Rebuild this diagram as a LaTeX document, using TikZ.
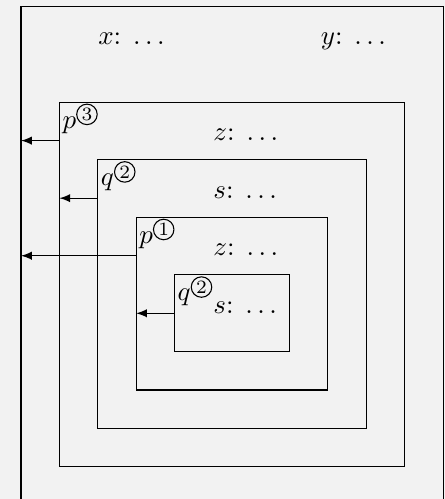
\documentclass[tikz,border=0pt]{standalone}
\usetikzlibrary{fit}

% small circled number for the tags
\newcommand{\circnum}[1]{\tikz[baseline={([yshift=2.8pt]cnum.south)}]\node[draw, circle, inner sep=0pt, minimum size=7.6pt, font=\scriptsize] (cnum) {#1};}

\begin{document}
\begin{tikzpicture}[x=0.5cm, y=0.5cm,
    box/.style={draw, inner sep=0pt, outer sep=0pt},
    tag/.style={anchor=north west, inner xsep=1pt, inner ysep=0.3pt},
    txt/.style={anchor=base west, inner sep=0pt}]
    % Background and clipping
    \fill[gray!10] (-0.547,0.16) rectangle (11.049,13.165);
    \clip (-0.547,0.16) rectangle (11.049,13.165);

    % Nested frames
    \node[box, fit={(0,-1) (11,13)}] (b1) {};
    \node[box, fit={(1,1) (10,10.5)}] (b2) {};
    \node[box, fit={(2,2) (9,9)}] (b3) {};
    \node[box, fit={(3,3) (8,7.5)}] (b4) {};
    \node[box, fit={(4,4) (7,6)}] (b5) {};

    % Outer entries
    \node[txt] (tx) at (2,12) {$x$: $\ldots$};
    \node[txt] (ty) at (7.8,12) {$y$: $\ldots$};

    % Inner entries
    \foreach \i/\v/\y in {2/z/9.5, 3/s/8, 4/z/6.5, 5/s/5}
        \node[txt] (t\i) at (5,\y) {$\v$: $\ldots$};

    % Tags in the corners
    \foreach \i/\v/\n in {2/p/3, 3/q/2, 4/p/1, 5/q/2}
        \node[tag] (l\i) at (b\i.north west) {$\v^{\circnum{\n}}$};

    % Links to the enclosing frames
    \foreach \i/\j in {2/1, 3/2, 4/1, 5/4}
        \draw[-latex] (b\i.west |- t\i.base) -- (b\j.west |- t\i.base);
\end{tikzpicture}
\end{document}
